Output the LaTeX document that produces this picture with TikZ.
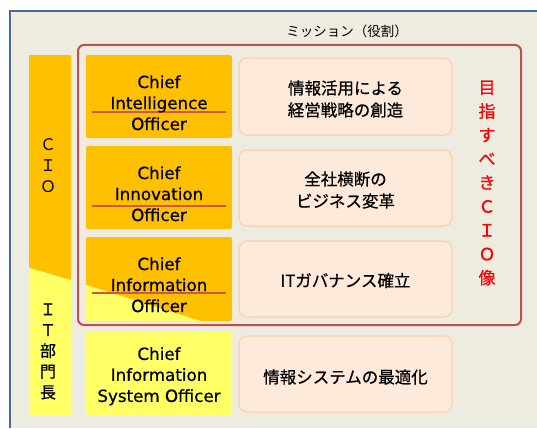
\documentclass[tikz,border=0pt]{standalone}
\usepackage{fontspec}
\setmainfont{DejaVu Sans}[FakeBold=0.6]
\newfontfamily\jfont{Noto Sans CJK JP}[FakeBold=0.6]
\newfontfamily\jlight{Noto Sans CJK JP}
\definecolor{bgc}{HTML}{EEECE1}
\definecolor{framec}{HTML}{4A6A9A}
\definecolor{orangec}{HTML}{FFC000}
\definecolor{yellowc}{HTML}{FFFF66}
\definecolor{redframe}{HTML}{C0504D}
\definecolor{ulinec}{HTML}{D0564A}
\definecolor{misfill}{HTML}{FDEADA}
\definecolor{misline}{HTML}{FBD4B4}
\definecolor{redtext}{HTML}{FF0000}
\tikzset{
  chiefbox/.style={fill=orangec, rounded corners=2pt, inner sep=0pt, minimum width=146pt},
  misbox/.style={fill=misfill, draw=misline, line width=1.5pt, rounded corners=8pt, inner sep=0pt, minimum width=213pt},
  chieftxt/.style={align=center, inner sep=0pt, font=\fontsize{16.7}{21}\selectfont},
  mistxt/.style={align=center, inner sep=0pt, font=\jfont\fontsize{16.5}{22}\selectfont},
  uline/.style={draw=ulinec, line width=1.5pt},
}
\begin{document}
\begin{tikzpicture}[x=1pt,y=-1pt]
\useasboundingbox (0,0) rectangle (537,428);
\fill[white] (0,0) rectangle (537,428);
\fill[bgc] (10,11) rectangle (537,428);
\draw[framec, line width=2pt] (10,428) -- (10,11) -- (537,11);

% title
\node[inner sep=0pt, font=\jlight\fontsize{13.5}{15}\selectfont] (title) at (347,31) {ミッション（役割）};

% red frame
\draw[redframe, line width=2pt, rounded corners=6pt] (78,45) rectangle (521,325);

% CIO bar
\fill[orangec] (29,55) -- (71,55) -- (71,280) -- (29,268) -- cycle;
\fill[yellowc] (29,268) -- (71,280) -- (71,415) -- (29,415) -- cycle;
\node[align=center, inner sep=0pt, font=\jlight\fontsize{16}{21}\selectfont] (cio) at (48,166) {Ｃ\\Ｉ\\Ｏ};
\node[align=center, inner sep=0pt, font=\jfont\fontsize{16}{20.75}\selectfont] (itb) at (48,351.5) {Ｉ\\Ｔ\\部\\門\\長};

% chief boxes
\node[chiefbox, minimum height=83pt] (c1) at (159,96.5) {};
\node[chiefbox, minimum height=83pt] (c2) at (159,187.5) {};
\node[chiefbox, minimum height=84pt] (c3) at (159,279) {};
\node[chiefbox, fill=yellowc, minimum height=84pt] (c4) at (159,373) {};
\begin{scope}
  \clip[rounded corners=2pt] (c3.north west) rectangle (c3.south east);
  \fill[yellowc] (80,283) -- (240,333.5) -- (240,345) -- (80,345) -- cycle;
\end{scope}

\draw[uline] (92,112) -- (226,112);
\draw[uline] (92,206) -- (226,206);
\draw[uline] (92,293) -- (226,293);

\node[chieftxt] (t1) at (159,102.8) {Chief\\Intelligence\\Officer};
\node[chieftxt] (t2) at (159,193.8) {Chief\\Innovation\\Officer};
\node[chieftxt] (t3) at (159,284.8) {Chief\\Information\\Officer};
\node[chieftxt] (t4) at (159,376.3) {Chief\\Information\\System Officer};

% mission boxes
\node[misbox, minimum height=77pt] (m1) at (345.5,96.5) {};
\node[misbox, minimum height=76pt] (m2) at (345.5,188) {};
\node[misbox, minimum height=76pt] (m3) at (345.5,279) {};
\node[misbox, minimum height=76pt] (m4) at (345.5,374) {};
\node[mistxt] (mt1) at (345.5,99) {情報活用による\\経営戦略の創造};
\node[mistxt] (mt2) at (345.5,190) {全社横断の\\ビジネス変革};
\node[mistxt] (mt3) at (345.5,280.5) {ITガバナンス確立};
\node[mistxt] (mt4) at (345.5,377) {情報システムの最適化};

% red vertical text
\node[align=center, inner sep=0pt, text=redtext, font=\jfont\fontsize{17}{23.8}\selectfont] (goal) at (487,183) {目\\指\\す\\べ\\き\\Ｃ\\Ｉ\\Ｏ\\像};
\end{tikzpicture}
\end{document}
